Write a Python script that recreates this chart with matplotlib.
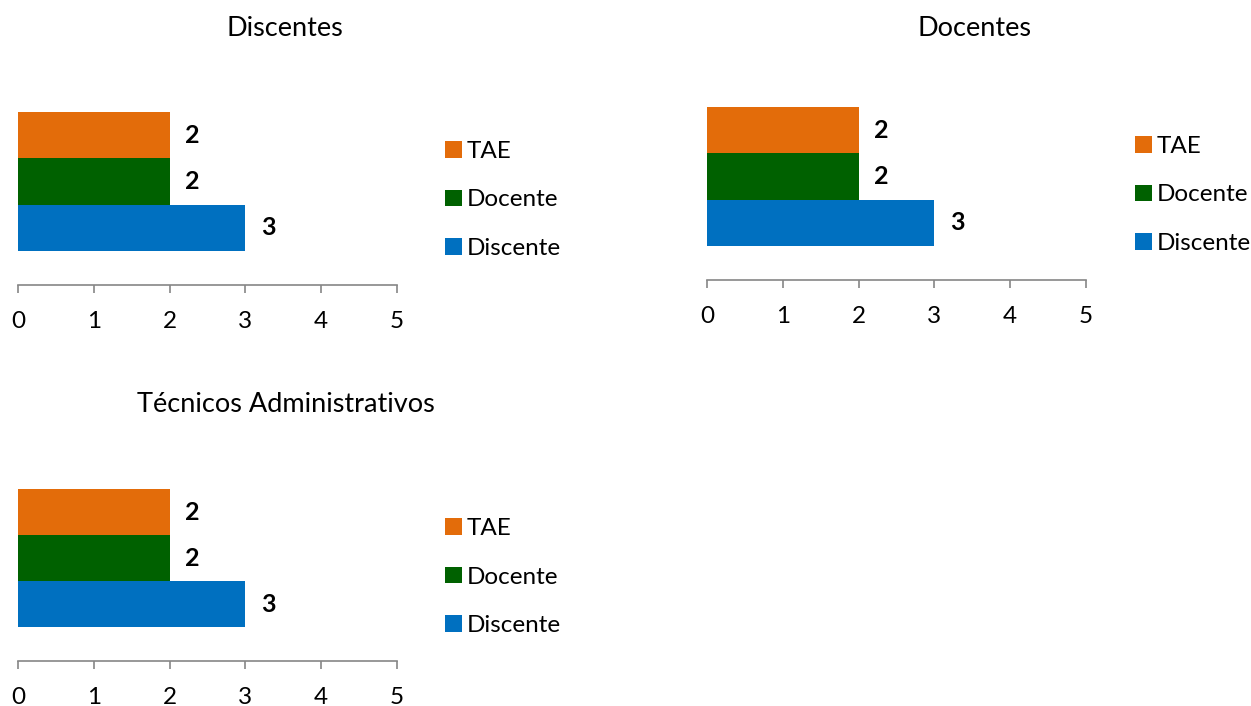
import matplotlib
matplotlib.use("Agg")
import matplotlib.pyplot as plt

titles = ["Discentes", "Docentes", "Técnicos Administrativos"]
series = ["Discente", "Docente", "TAE"]
colors = ["#0070C0", "#006100", "#E36C0A"]
values = [[3, 2, 2], [3, 2, 2], [3, 2, 2]]
xticks = [0, 1, 2, 3, 4, 5]

W, H = 1251, 706
fig = plt.figure(figsize=(W / 100, H / 100), dpi=100)
plt.rcParams['font.family'] = ['Lato', 'DejaVu Sans']

# panel geometry in pixels: (x0, x5, bar_top, axis_y, title_x, title_y, legend_x, legend_mid_y)
panels = [
    (18, 397, 112, 285, 285, 28, 445, 200),
    (707, 1086, 107, 280, 975, 28, 1135, 195),
    (18, 397, 489, 661, 286, 404, 445, 577),
]

fs = 17.5
tfs = 19.5
for (x0, x5, top, axy, tx, ty, lx, ly), title, vals in zip(panels, titles, values):
    ax = fig.add_axes([x0 / W, 1 - axy / H, (x5 - x0) / W, (axy - top) / H])
    bar_px = (axy - top - 34) / 3.0
    handles = []
    for i, (s, c, v) in enumerate(zip(series, colors, vals)):
        h = ax.barh(i, v, height=1.0, color=c, label=s)
        handles.append(h)
        ax.annotate(f"{v}", (v, i), xytext=(11, 0), textcoords="offset points",
                    va="center", ha="left", fontsize=fs + 0.5, fontweight="bold", color="black")
    ax.set_xlim(0, 5)
    ax.set_ylim(-0.5 - 34 / bar_px, 2.5)
    ax.set_xticks(xticks)
    ax.set_yticks([])
    for sp in ["left", "top", "right"]:
        ax.spines[sp].set_visible(False)
    ax.spines["bottom"].set_color("#868686")
    ax.spines["bottom"].set_linewidth(1.2)
    ax.tick_params(axis="x", direction="out", length=5.8, width=1.2, color="#868686",
                   labelsize=fs, labelcolor="black", pad=13)
    ax.patch.set_visible(False)
    fig.text(tx / W, 1 - ty / H, title, ha="center", va="center", fontsize=tfs)
    leg = fig.legend(handles[::-1], series[::-1], loc="center left",
                     bbox_to_anchor=(lx / W, 1 - ly / H), frameon=False,
                     fontsize=fs, handlelength=0.68, handleheight=0.68,
                     handletextpad=0.2, labelspacing=1.13, borderpad=0, borderaxespad=0)

fig.savefig("out.png", dpi=100)
